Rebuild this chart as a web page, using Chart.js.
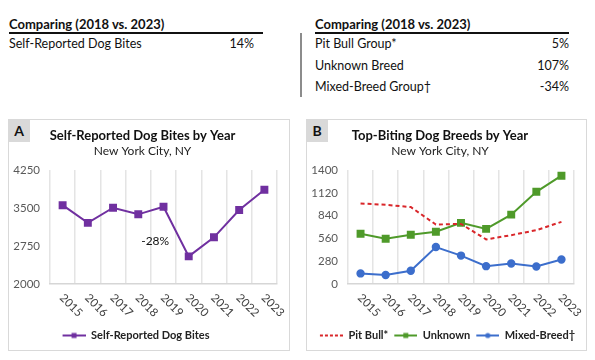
<!DOCTYPE html>
<html>
<head>
<meta charset="utf-8">
<script src="https://cdn.jsdelivr.net/npm/chart.js@4.4.1/dist/chart.umd.min.js"></script>
<style>
body { margin: 0; width: 595px; height: 360px; background: #fff; position: relative; overflow: hidden;
       font-family: Lato, "Liberation Sans", sans-serif; color: #111; }
.t { position: absolute; white-space: nowrap; line-height: 16px; font-size: 12.5px; }
.h { font-weight: bold; font-size: 13px; }
.rule { position: absolute; height: 1.5px; background: #111; }
.vbar { position: absolute; left: 300px; top: 33px; width: 1.5px; height: 64px; background: #8c8c8c; }
.panel { position: absolute; top: 119px; height: 232px; border: 1px solid #d9d9d9; box-sizing: border-box; }
.tag { position: absolute; top: 119px; width: 22px; height: 23px; background: #d9d9d9; font-weight: bold;
       font-size: 14px; text-align: center; line-height: 23px; z-index: 2; }
canvas { position: absolute; top: 119px; }
</style>
</head>
<body>
<div id="summary"></div>
<div class="vbar"></div>

<div class="panel" style="left:8px;width:282px"></div>
<div class="panel" style="left:306px;width:281px"></div>
<canvas id="chartA" width="282" height="232" style="left:8px"></canvas>
<canvas id="chartB" width="281" height="232" style="left:306px"></canvas>
<div class="tag" style="left:8px">A</div>
<div class="tag" style="left:306px">B</div>

<script>
// data
const years = ['2015', '2016', '2017', '2018', '2019', '2020', '2021', '2022', '2023'];
const dogBites = [3556, 3206, 3505, 3375, 3524, 2545, 2921, 3459, 3861];
const pitBull = [989, 973, 945, 730, 738, 548, 600, 661, 763];
const unknownBreed = [617, 556, 605, 642, 751, 677, 852, 1132, 1330];
const mixedBreed = [130, 110, 162, 454, 349, 219, 252, 215, 300];
const biteTicks = [2000, 2750, 3500, 4250];
const breedTicks = [0, 280, 560, 840, 1120, 1400];

// summary tables
const leftNames = ['Self-Reported Dog Bites'];
const leftChange = ['14%'];
const rightNames = ['Pit Bull Group*', 'Unknown Breed', 'Mixed-Breed Group\u2020'];
const rightChange = ['5%', '107%', '-34%'];

const FONT = 'Lato, "Liberation Sans", sans-serif';
const rowTops = [36, 58, 79];

function addText(txt, cls, style) {
    const d = document.createElement('div');
    d.className = cls;
    d.style.cssText = style;
    d.textContent = txt;
    document.getElementById('summary').appendChild(d);
}
function addBlock(left, ruleEnd, valRight, names, vals) {
    addText('Comparing (2018 vs. 2023)', 't h', 'left:' + left + 'px;top:16px');
    const r = document.createElement('div');
    r.className = 'rule';
    r.style.cssText = 'left:' + left + 'px;top:32px;width:' + (ruleEnd - left) + 'px';
    document.getElementById('summary').appendChild(r);
    names.forEach((n, i) => {
        addText(n, 't', 'left:' + left + 'px;top:' + rowTops[i] + 'px');
        addText(vals[i], 't', 'right:' + (595 - valRight) + 'px;top:' + rowTops[i] + 'px');
    });
}
addBlock(9, 263, 254, leftNames, leftChange);
addBlock(315, 569, 569, rightNames, rightChange);

// legend icons: line with marker, right-aligned in a 26px box
function legendIcon(color, marker, dash) {
    const c = document.createElement('canvas');
    c.width = 26; c.height = 10;
    const g = c.getContext('2d');
    g.strokeStyle = color;
    g.lineWidth = 2;
    if (dash) g.setLineDash(dash);
    g.beginPath(); g.moveTo(3, 5); g.lineTo(26, 5); g.stroke();
    g.fillStyle = color;
    if (marker === 'rect') g.fillRect(12, 2.5, 5, 5);
    if (marker === 'circle') { g.beginPath(); g.arc(14.5, 5, 2.6, 0, Math.PI * 2); g.fill(); }
    return c;
}

// rotated year labels, free text, legend nudge
const yearLabels = {
    id: 'yearLabels',
    afterLayout(chart, args, opts) {
        if (opts.shift && chart.legend) {
            chart.legend.left += opts.shift;
            chart.legend.right += opts.shift;
        }
    },
    afterDraw(chart, args, opts) {
        const ctx = chart.ctx;
        const xs = chart.scales.x;
        ctx.save();
        ctx.font = '11.5px ' + FONT;
        ctx.fillStyle = '#404040';
        ctx.textAlign = 'left';
        ctx.textBaseline = 'middle';
        years.forEach((y, i) => {
            ctx.save();
            ctx.translate(xs.getPixelForTick(i) - 1, chart.chartArea.bottom + 12);
            ctx.rotate(Math.PI / 4);
            ctx.fillText(y, 0, 0);
            ctx.restore();
        });
        if (opts.note) {
            ctx.font = '12px ' + FONT;
            ctx.fillStyle = '#111';
            ctx.textAlign = 'center';
            ctx.fillText(opts.note.text, xs.getPixelForValue(opts.note.x), chart.scales.y.getPixelForValue(opts.note.y));
        }
        ctx.restore();
    }
};

function makeChart(id, title, datasets, ticks, icons, note, shift) {
    return new Chart(document.getElementById(id), {
        type: 'line',
        data: { labels: years, datasets },
        options: {
            responsive: false,
            animation: false,
            layout: { padding: { left: 0, right: 13, top: 0, bottom: 0 } },
            scales: {
                x: {
                    offset: true,
                    grid: { offset: true, color: '#e4e4e4', lineWidth: 1.5, drawTicks: false },
                    border: { color: '#d6d6d6', width: 1.5 },
                    ticks: { display: false },
                    afterFit: (s) => { s.height = 43; }
                },
                y: {
                    min: ticks[0],
                    max: ticks[ticks.length - 1],
                    afterBuildTicks: (s) => { s.ticks = ticks.map(v => ({ value: v })); },
                    grid: { display: false, drawTicks: false },
                    border: { display: false },
                    ticks: {
                        color: '#595959', padding: 10, font: { family: FONT, size: 11.5 },
                        callback: (v) => String(v)
                    },
                    afterFit: (s) => { s.width = 42; }
                }
            },
            plugins: {
                title: {
                    display: true, text: title, color: '#111',
                    font: { family: FONT, size: 13, weight: 'bold' },
                    padding: { top: 9, bottom: 0 }
                },
                subtitle: {
                    display: true, text: 'New York City, NY', color: '#222',
                    font: { family: FONT, size: 12 },
                    padding: { top: 0, bottom: 12 }
                },
                legend: {
                    position: 'bottom',
                    labels: {
                        usePointStyle: true,
                        pointStyleWidth: 26,
                        color: '#222',
                        padding: 3,
                        font: { family: FONT, size: 11, weight: 'bold' },
                        generateLabels: (chart) => {
                            const items = Chart.defaults.plugins.legend.labels.generateLabels(chart);
                            items.forEach((it, i) => { it.pointStyle = icons[i]; });
                            return items;
                        }
                    }
                },
                tooltip: { enabled: false },
                yearLabels: { note, shift }
            }
        },
        plugins: [yearLabels]
    });
}

const purple = '#7030A0', red = '#D9262A', green = '#4F9A2A', blue = '#3C6ECC';

makeChart('chartA', 'Self-Reported Dog Bites by Year', [{
    label: 'Self-Reported Dog Bites',
    data: dogBites,
    borderColor: purple, backgroundColor: purple,
    borderWidth: 2, pointStyle: 'rect', pointRadius: 4.2, tension: 0
}], biteTicks, [legendIcon(purple, 'rect')], { text: '-28%', x: 3.67, y: 2850 }, -8);

makeChart('chartB', 'Top-Biting Dog Breeds by Year', [{
    label: 'Pit Bull*',
    data: pitBull,
    borderColor: red, backgroundColor: red,
    borderWidth: 2, borderDash: [4, 3], pointRadius: 0, tension: 0
}, {
    label: 'Unknown',
    data: unknownBreed,
    borderColor: green, backgroundColor: green,
    borderWidth: 2, pointStyle: 'rect', pointRadius: 4.2, tension: 0
}, {
    label: 'Mixed-Breed\u2020',
    data: mixedBreed,
    borderColor: blue, backgroundColor: blue,
    borderWidth: 2, pointStyle: 'circle', pointRadius: 3.2, tension: 0
}], breedTicks, [legendIcon(red, null, [3, 2]), legendIcon(green, 'rect'), legendIcon(blue, 'circle')], null, 6);
</script>
</body>
</html>
